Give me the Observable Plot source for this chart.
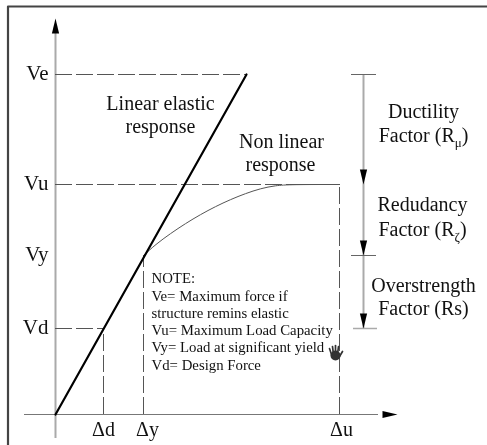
<!DOCTYPE html>
<html>
<head>
<meta charset="utf-8">
<script src="https://cdn.jsdelivr.net/npm/d3@7"></script>
<script src="https://cdn.jsdelivr.net/npm/@observablehq/plot@0.6"></script>
<style>
html,body{margin:0;padding:0;background:#fff;overflow:hidden}
svg{display:block;filter:blur(0.35px)}
</style>
</head>
<body>
<div id="chart"></div>
<script>
// Values are drift (x) and force (y), in the drawing's own units measured from the origin
const forceLabels = ["Ve", "Vu", "Vy", "Vd"];
const forceValues = [340, 230, 159, 86];
const driftLabels = ["Δd", "Δy", "Δu"];
const driftValues = [48, 88, 284];
const elasticDrift = [0, 191];
const elasticForce = [0, 340];
const nonlinearDrift = [88, 100, 115, 130, 145, 160, 175, 190, 205, 220, 235, 284];
const nonlinearForce = [159, 170, 181, 191, 200, 208, 215, 221, 226, 229, 230, 230];
const factorX = 308;
const factorBounds = [340, 230, 159, 86];
const factorLabels = [
  {t: "Ductility", x: 368, y: 303},
  {t: "Factor (Rμ)", x: 368, y: 279},
  {t: "Redudancy", x: 367, y: 210},
  {t: "Factor (Rζ)", x: 367, y: 185},
  {t: "Overstrength", x: 368, y: 129},
  {t: "Factor (Rs)", x: 368, y: 106}
];
const curveLabels = [
  {t: "Linear elastic", x: 105, y: 311},
  {t: "response", x: 105, y: 288},
  {t: "Non linear", x: 226, y: 273},
  {t: "response", x: 225, y: 250}
];
const noteLines = [
  "NOTE:",
  "Ve= Maximum force if",
  "structure remins elastic",
  "Vu= Maximum Load Capacity",
  "Vy= Load at significant yield",
  "Vd= Design Force"
];
const noteY = [136, 118, 101, 84, 67, 49];
const handFingers = [[-4, -1, -6, -7], [-2, -1, -3, -9], [0, -1, 0, -10], [2, -1, 3, -9], [4, 1, 7, -4]];
const handOrigin = [280, 59];

const zip = (a, b) => a.map((v, i) => [v, b[i]]);
const elastic = zip(elasticDrift, elasticForce);
const nonlinear = zip(nonlinearDrift, nonlinearForce);

// Elongated arrowhead: the tip is at the dot's anchor
const arrowhead = {draw(c, size) {
  const w = 3.6, l = 15;
  c.moveTo(0, 0); c.lineTo(w, l); c.lineTo(-w, l); c.closePath();
}};

const serif = "Liberation Serif";
const chart = Plot.plot({
  width: 487, height: 445,
  margin: 0,
  style: {background: "#fff", fontFamily: serif, overflow: "visible"},
  x: {domain: [-55, 432], range: [0, 487], axis: null},
  y: {domain: [-31, 414], range: [445, 0], axis: null},
  marks: [
    // frame
    Plot.line([[-47.5, -31], [-47.5, 408], [432, 408]], {stroke: "#444", strokeWidth: 2.2}),
    // axes
    Plot.ruleX([0], {y1: -24, y2: 381, stroke: "#aaa", strokeWidth: 2}),
    Plot.ruleY([0], {x1: -31, x2: 323, stroke: "#777", strokeWidth: 1.2}),
    Plot.dot([[0, 396]], {symbol: arrowhead, fill: "#000", stroke: "none", r: 4}),
    Plot.dot([[342, 0]], {symbol: arrowhead, fill: "#000", stroke: "none", r: 4, rotate: 90}),
    // dashed guides
    Plot.ruleY(forceValues.slice(0, 1), {x1: 0, x2: 191, stroke: "#555", strokeWidth: 1, strokeDasharray: "17 4"}),
    Plot.ruleY(forceValues.slice(1, 2), {x1: 0, x2: 284, stroke: "#555", strokeWidth: 1, strokeDasharray: "17 4"}),
    Plot.ruleY(forceValues.slice(3, 4), {x1: 0, x2: 48, stroke: "#555", strokeWidth: 1, strokeDasharray: "17 4"}),
    Plot.ruleX(driftValues.slice(0, 1), {y1: 0, y2: 86, stroke: "#555", strokeWidth: 1, strokeDasharray: "17 4"}),
    Plot.ruleX(driftValues.slice(1, 2), {y1: 0, y2: 159, stroke: "#555", strokeWidth: 1, strokeDasharray: "17 4"}),
    Plot.ruleX(driftValues.slice(2, 3), {y1: 0, y2: 230, stroke: "#555", strokeWidth: 1, strokeDasharray: "17 4"}),
    // response curves
    Plot.line(nonlinear, {stroke: "#555", strokeWidth: 1, curve: "basis"}),
    Plot.line([nonlinear[nonlinear.length - 2], nonlinear[nonlinear.length - 1]], {stroke: "#555", strokeWidth: 1}),
    Plot.line(elastic, {stroke: "#000", strokeWidth: 2.2}),
    // factor dimension line
    Plot.ruleX([factorX], {y1: factorBounds[3], y2: factorBounds[0], stroke: "#aaa", strokeWidth: 2}),
    Plot.ruleY(factorBounds.filter(v => v !== 230 && v !== 86), {x1: 296, x2: 321, stroke: "#666", strokeWidth: 1}),
    Plot.ruleY([86], {x1: 298, x2: 322, stroke: "#aaa", strokeWidth: 1.5}),
    Plot.dot(factorBounds.slice(1), {x: () => factorX, y: d => d, symbol: arrowhead, fill: "#000", stroke: "none", r: 4, rotate: 180}),
    // hand cursor
    Plot.dot([handOrigin], {r: 5, fill: "#333", stroke: "none"}),
    Plot.link(handFingers, {
      x1: d => handOrigin[0] + d[0], y1: d => handOrigin[1] - d[1],
      x2: d => handOrigin[0] + d[2], y2: d => handOrigin[1] - d[3],
      stroke: "#333", strokeWidth: 1.7, strokeLinecap: "round"
    }),
    // labels
    Plot.text(forceLabels, {x: () => -7, y: (d, i) => forceValues[i] + 1, text: d => d, textAnchor: "end", fontSize: 21, fill: "#111"}),
    Plot.text(driftLabels, {x: (d, i) => driftValues[i] + [0, 4, 2][i], y: () => -15, text: d => d, fontSize: 20, fill: "#111"}),
    Plot.text(curveLabels, {x: "x", y: "y", text: "t", fontSize: 20, fill: "#111"}),
    Plot.text(factorLabels, {x: "x", y: "y", text: "t", fontSize: 20, fill: "#111", className: "factor"}),
    Plot.text(noteLines, {x: () => 96, y: (d, i) => noteY[i], text: d => d, textAnchor: "start", fontSize: 14.8, fill: "#111"})
  ]
});

// Subscripts stay inside their label's text element
d3.select(chart).selectAll("text").each(function () {
  const s = this.textContent;
  const m = s.match(/^(.*\(R)([μζ])(\))$/);
  if (!m) return;
  const t = d3.select(this).text(null);
  t.append("tspan").text(m[1]);
  t.append("tspan").attr("dy", 5).attr("font-size", 13).text(m[2]);
  t.append("tspan").attr("dy", -5).text(m[3]);
});

document.getElementById("chart").append(chart);
</script>
</body>
</html>
